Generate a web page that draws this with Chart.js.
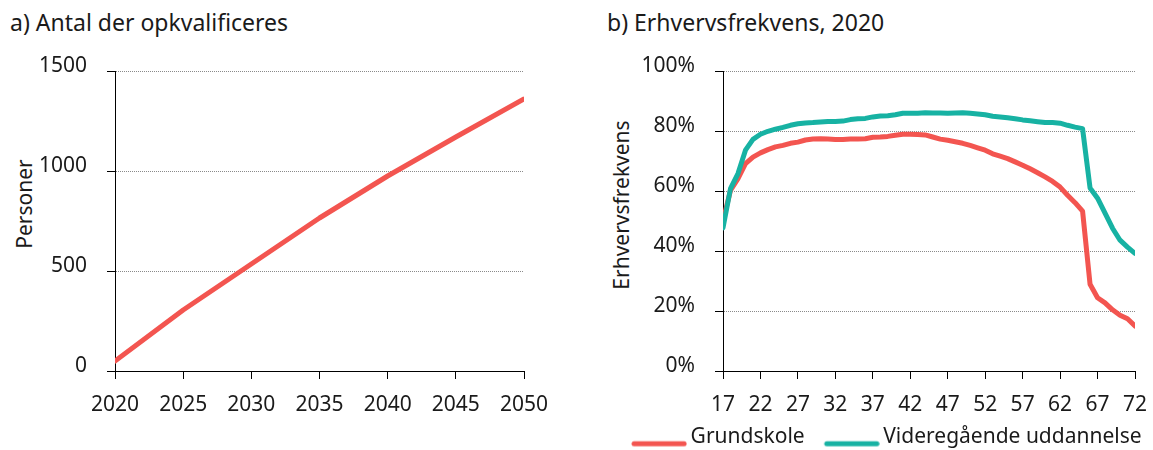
<!DOCTYPE html>
<html><head><meta charset="utf-8">
<script src="https://cdn.jsdelivr.net/npm/chart.js@4"></script>
<style>
html,body{margin:0;padding:0;background:#fff;overflow:hidden;}
#wrap{position:relative;width:1153px;height:450px;overflow:hidden;font-family:'Noto Sans',sans-serif;color:#1a1a1a;}
.ttl{position:absolute;font-size:23px;line-height:23px;white-space:nowrap;}
.ax{position:absolute;font-size:21px;line-height:21px;white-space:nowrap;transform:translate(-50%,-50%) rotate(-90deg);}
canvas{position:absolute;top:0;}
</style></head>
<body><div id="wrap">
<div class="ttl" style="left:10px;top:11px">a) Antal der opkvalificeres</div>
<div class="ttl" style="left:607px;top:11px">b) Erhvervsfrekvens, 2020</div>
<div class="ax" style="left:24px;top:204px">Personer</div>
<div class="ax" style="left:621px;top:205px">Erhvervsfrekvens</div>
<canvas id="c1" width="576" height="450" style="left:0"></canvas>
<canvas id="c2" width="568" height="450" style="left:612px"></canvas>
</div>
<script>
// ---- data ----
const years = [2020, 2025, 2030, 2035, 2040, 2045, 2050];
const personer = [50, 305, 535, 765, 975, 1170, 1360];
const yTicksA = [0, 500, 1000, 1500];

const ages = [17,18,19,20,21,22,23,24,25,26,27,28,29,30,31,32,33,34,35,36,37,38,39,40,41,42,43,44,45,46,47,48,49,50,51,52,53,54,55,56,57,58,59,60,61,62,63,64,65,66,67,68,69,70,71,72];
const grundskole = [50,60.2,64.1,69.1,71.3,72.7,73.8,74.7,75.2,75.9,76.3,77,77.3,77.4,77.3,77.2,77.2,77.3,77.3,77.4,77.9,78,78.2,78.6,78.9,78.9,78.8,78.7,78,77.3,76.9,76.4,75.9,75.2,74.4,73.6,72.4,71.6,70.8,69.7,68.6,67.4,66.1,64.7,63.2,61.3,58.6,56.1,53.3,28.9,24.4,22.7,20.4,18.6,17.4,15];
const videregaaende = [47.7,60.8,65.8,73.6,77.2,78.9,79.9,80.6,81.2,81.9,82.4,82.7,82.8,83,83.2,83.2,83.3,83.8,84.1,84.2,84.7,85,85.1,85.4,85.9,85.9,85.9,86.1,86,86,85.9,86,86.1,85.9,85.7,85.4,84.9,84.7,84.4,84.1,83.7,83.4,83.1,82.8,82.8,82.6,81.9,81.3,80.8,61,57.6,52.6,47.6,43.6,41.3,39.2];
const seriesNames = ['Grundskole', 'Videregående uddannelse'];
const yTicksB = [0, 20, 40, 60, 80, 100];

// ---- style ----
const RED = '#F35550';
const TEAL = '#17B2A3';
const INK = '#1a1a1a';
Chart.defaults.font.family = "'Noto Sans', sans-serif";
Chart.defaults.font.size = 21;
Chart.defaults.color = INK;

function gridColor(c) { return c.tick && c.tick.value === 0 ? 'rgba(0,0,0,0)' : '#8a8a8a'; }

// legend swatch: a short thick line sitting a little below the text middle
function swatch(color) {
  const cv = document.createElement('canvas');
  cv.width = 72; cv.height = 24;
  const g = cv.getContext('2d');
  g.strokeStyle = color; g.lineWidth = 5; g.lineCap = 'round';
  g.beginPath(); g.moveTo(19.05, 18.2); g.lineTo(69.05, 18.2); g.stroke();
  return cv;
}

function yScale(min, max, fmt, width, tickVals) {
  return {
    min: min, max: max,
    afterFit: s => { s.width = width; },
    afterBuildTicks: s => { s.ticks = tickVals.map(v => ({value: v})); },
    ticks: { padding: 20, labelOffset: -5, callback: fmt, color: INK, font: {size: 21} },
    grid: { color: gridColor, tickColor: '#000', tickLength: 8, lineWidth: 1, drawOnChartArea: true },
    border: { color: '#000', width: 1, dash: [1, 1] }
  };
}

// ---- chart a ----
new Chart(document.getElementById('c1'), {
  type: 'line',
  data: {
    datasets: [{
      label: 'Personer',
      data: years.map((y, i) => ({x: y, y: personer[i]})),
      borderColor: RED, borderWidth: 5, pointRadius: 0, tension: 0,
      borderCapStyle: 'round', borderJoinStyle: 'round', fill: false
    }]
  },
  options: {
    responsive: false, animation: false, devicePixelRatio: 1,
    layout: { padding: {top: 71, right: 52, bottom: 0, left: 0} },
    plugins: { legend: {display: false}, tooltip: {enabled: false} },
    scales: {
      x: {
        type: 'linear', min: 2020, max: 2050,
        afterFit: s => { s.height = 79; },
        ticks: { stepSize: 5, padding: 13, callback: v => String(v), color: INK, font: {size: 21}, maxRotation: 0 },
        grid: { drawOnChartArea: false, tickColor: '#000', tickLength: 8 },
        border: { color: '#000', width: 1 }
      },
      y: yScale(0, 1500, v => String(v), 115, yTicksA)
    }
  }
});

// ---- chart b ----
new Chart(document.getElementById('c2'), {
  type: 'line',
  data: {
    datasets: [
      { label: seriesNames[0], data: ages.map((a, i) => ({x: a, y: grundskole[i]})),
        borderColor: RED, backgroundColor: RED, borderWidth: 5, pointRadius: 0, tension: 0,
        borderCapStyle: 'round', borderJoinStyle: 'round', fill: false, order: 1, pointStyle: swatch(RED) },
      { label: seriesNames[1], data: ages.map((a, i) => ({x: a, y: videregaaende[i]})),
        borderColor: TEAL, backgroundColor: TEAL, borderWidth: 5, pointRadius: 0, tension: 0,
        borderCapStyle: 'round', borderJoinStyle: 'round', fill: false, order: 0, pointStyle: swatch(TEAL) }
    ]
  },
  options: {
    responsive: false, animation: false, devicePixelRatio: 1,
    layout: { padding: {top: 71, right: 0, bottom: 0, left: 0} },
    plugins: {
      tooltip: {enabled: false},
      legend: {
        position: 'bottom', align: 'start', maxHeight: 33,
        labels: {
          usePointStyle: true, pointStyleWidth: 58.1, padding: 10,
          color: INK, font: {size: 21},
          sort: (a, b) => a.datasetIndex - b.datasetIndex
        }
      }
    },
    scales: {
      x: {
        type: 'linear', min: 17, max: 72,
        afterFit: s => { s.height = 46; },
        ticks: { stepSize: 5, padding: 13, callback: v => String(v), color: INK, font: {size: 21}, maxRotation: 0 },
        grid: { drawOnChartArea: false, tickColor: '#000', tickLength: 8 },
        border: { color: '#000', width: 1 }
      },
      y: yScale(0, 100, v => v + '%', 111, yTicksB),
      yRight: {
        axis: 'y', position: 'right', display: true,
        afterFit: s => { s.width = 45; },
        ticks: { display: false }, grid: { display: false, drawTicks: false }, border: { display: false }
      }
    }
  }
});
</script>
</body></html>
